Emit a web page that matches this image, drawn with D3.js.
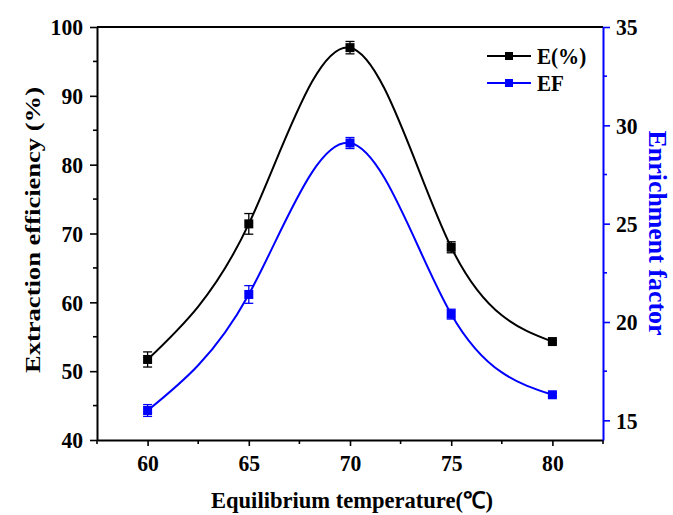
<!DOCTYPE html>
<html><head><meta charset="utf-8">
<script src="https://cdn.jsdelivr.net/npm/d3@7"></script>
<style>body{margin:0;background:#fff}svg{display:block}text{font-family:"Liberation Serif","Times New Roman",serif;font-weight:bold}</style>
</head><body><svg id="c" width="673" height="515"></svg>
<script>
const temps = [60, 65, 70, 75, 80];
const eValues = [51.7, 71.4, 97.0, 68.0, 54.3];
const eErrors = [1.1, 1.5, 0.9, 0.8, 0.2];
const efValues = [15.5, 21.4, 29.1, 20.4, 16.3];
const efErrors = [0.3, 0.45, 0.28, 0.25, 0.08];
const xTicks = [60, 65, 70, 75, 80];
const yLeftTicks = [40, 50, 60, 70, 80, 90, 100];
const yRightTicks = [15, 20, 25, 30, 35];
const xLabel = "Equilibrium temperature(\u2103)";
const yLeftLabel = "Extraction efficiency (%)";
const yRightLabel = "Enrichment factor";
const seriesNames = ["E(%)", "EF"];

const svg = d3.select("#c");
const L = 97, R = 603, T = 27, B = 440;
const x = d3.scaleLinear().domain([57.5, 82.5]).range([L, R]);
const yL = d3.scaleLinear().domain([40, 100]).range([B, T]);
const yR = d3.scaleLinear().domain([14, 35]).range([B, T]);
const blue = "#0000ff";

function squeeze(sel, k) {
  sel.each(function () {
    const w = this.getComputedTextLength();
    d3.select(this).attr("textLength", w * k).attr("lengthAdjust", "spacingAndGlyphs");
  });
}
function fitTo(sel, w) {
  sel.attr("textLength", w).attr("lengthAdjust", "spacingAndGlyphs");
}
function styleAxis(g, color) {
  g.selectAll("path").attr("stroke", color).attr("stroke-width", 2);
  g.selectAll("line").attr("stroke", color).attr("stroke-width", 1.6);
  g.selectAll("text").attr("fill", "#000").style("font-size", "24px").style("font-family", '"Liberation Serif",serif').style("font-weight", "bold");
  squeeze(g.selectAll("text"), 0.9);
}
const xMinor = d3.range(57.5, 83, 5);
const yLMinor = d3.range(45, 100, 10);
const yRMinor = d3.range(17.5, 35, 5);

const gx = svg.append("g").attr("transform", `translate(0,${B})`)
  .call(d3.axisBottom(x).tickValues(xTicks).tickSize(6).tickPadding(8).tickSizeOuter(0));
styleAxis(gx, "#000");
gx.selectAll(".minor").data(xMinor).enter().append("line").attr("x1", d => x(d)).attr("x2", d => x(d)).attr("y1", 0).attr("y2", 4).attr("stroke", "#000").attr("stroke-width", 1.6);

const gyl = svg.append("g").attr("transform", `translate(${L},0)`)
  .call(d3.axisLeft(yL).tickValues(yLeftTicks).tickSize(7).tickPadding(7).tickSizeOuter(0));
styleAxis(gyl, "#000");
gyl.selectAll(".minor").data(yLMinor).enter().append("line").attr("y1", d => yL(d)).attr("y2", d => yL(d)).attr("x1", 0).attr("x2", -4).attr("stroke", "#000").attr("stroke-width", 1.6);

svg.append("line").attr("x1", L).attr("x2", R).attr("y1", T).attr("y2", T).attr("stroke", "#000").attr("stroke-width", 2);

const gyr = svg.append("g").attr("transform", `translate(${R},0)`)
  .call(d3.axisRight(yR).tickValues(yRightTicks).tickSize(7).tickPadding(6).tickSizeOuter(0));
styleAxis(gyr, blue);
gyr.selectAll(".minor").data(yRMinor).enter().append("line").attr("y1", d => yR(d)).attr("y2", d => yR(d)).attr("x1", 0).attr("x2", 4).attr("stroke", blue).attr("stroke-width", 1.6);

fitTo(svg.append("text").attr("x", 352).attr("y", 508).attr("text-anchor", "middle").style("font-size", "23px").text(xLabel), 282);
fitTo(svg.append("text").attr("transform", `translate(40,230) rotate(-90)`).attr("text-anchor", "middle").style("font-size", "22px").text(yLeftLabel), 286);
fitTo(svg.append("text").attr("transform", `translate(649,233) rotate(90)`).attr("text-anchor", "middle").attr("fill", blue).style("font-size", "25px").text(yRightLabel), 205);

function drawSeries(vals, errs, y, color) {
  const pts = temps.map((t, i) => [x(t), y(vals[i])]);
  svg.append("path").attr("d", d3.line().curve(d3.curveNatural)(pts)).attr("fill", "none").attr("stroke", color).attr("stroke-width", 2);
  const g = svg.append("g");
  temps.forEach((t, i) => {
    const cx = x(t), y1 = y(vals[i] + errs[i]), y2 = y(vals[i] - errs[i]);
    g.append("line").attr("x1", cx).attr("x2", cx).attr("y1", y1).attr("y2", y2).attr("stroke", color).attr("stroke-width", 1.3);
    g.append("line").attr("x1", cx - 4.5).attr("x2", cx + 4.5).attr("y1", y1).attr("y2", y1).attr("stroke", color).attr("stroke-width", 1.3);
    g.append("line").attr("x1", cx - 4.5).attr("x2", cx + 4.5).attr("y1", y2).attr("y2", y2).attr("stroke", color).attr("stroke-width", 1.3);
    g.append("rect").attr("x", cx - 4.5).attr("y", y(vals[i]) - 4.5).attr("width", 9).attr("height", 9).attr("fill", color);
  });
}
drawSeries(eValues, eErrors, yL, "#000");
drawSeries(efValues, efErrors, yR, blue);

[["#000", 56], [blue, 83]].forEach(([c, ly], i) => {
  svg.append("line").attr("x1", 487).attr("x2", 531).attr("y1", ly).attr("y2", ly).attr("stroke", c).attr("stroke-width", 2);
  svg.append("rect").attr("x", 505).attr("y", ly - 4).attr("width", 8).attr("height", 8).attr("fill", c);
  squeeze(svg.append("text").attr("x", 537).attr("y", ly + 8).style("font-size", "24px").text(seriesNames[i]), 0.88);
});
</script></body></html>
